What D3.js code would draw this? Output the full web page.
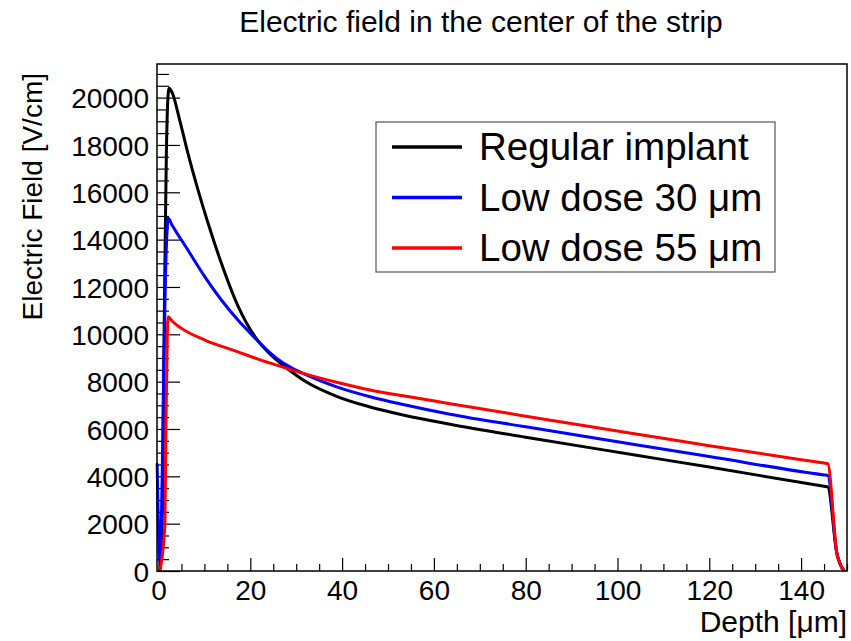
<!DOCTYPE html>
<html>
<head>
<meta charset="utf-8">
<script src="https://cdn.jsdelivr.net/npm/d3@7"></script>
<style>
  body { margin: 0; background: #fff; }
  text { font-family: "Liberation Sans", Arial, sans-serif; fill: #000; }
</style>
</head>
<body>
<svg id="chart" width="851" height="641"></svg>
<script>
// depth [um] / electric field [V/cm]
var depthRegular = [0.3, 0.9, 1.1, 1.4, 1.7, 2.0, 2.3, 3.0, 4.6, 6.4, 8.6, 10.8, 13.7, 17.3, 21, 24, 27, 28.6, 31.5, 38.8, 46.1, 53.3, 63.5, 80, 103.8, 120, 145.0, 145.8, 147.8, 148.6, 149.4];
var fieldRegular = [0, 3000, 8000, 13000, 17500, 19800, 20400, 20200, 19060, 17650, 16100, 14690, 13000, 11200, 9900, 9220, 8710, 8470, 8070, 7380, 6930, 6590, 6200, 5654, 4900, 4390, 3580, 3555, 735, 250, 0];

var depth30 = [-0.3, 0.3, 0.8, 1.1, 1.5, 1.9, 2.1, 3.0, 6.4, 10.1, 13.7, 17.3, 21, 24, 27, 28.6, 31.5, 38.8, 46.1, 53.3, 63.5, 80, 104, 120, 145.0, 145.8, 147.8, 148.6, 149.4];
var field30 = [4550, 400, 4000, 8000, 12300, 14500, 14900, 14600, 13560, 12430, 11450, 10600, 9850, 9270, 8810, 8626, 8347, 7780, 7363, 7034, 6625, 6090, 5330, 4834, 4060, 4040, 735, 250, 0];

var depth55 = [0.3, 1.4, 1.6, 1.9, 2.1, 3.0, 5.0, 10.1, 17.3, 22, 24.2, 28.6, 31.5, 38.8, 46.1, 53.3, 63.5, 80, 104, 120, 145.0, 145.8, 147.8, 148.6, 149.4];
var field55 = [0, 2000, 6000, 9800, 10740, 10550, 10250, 9755, 9260, 8930, 8790, 8520, 8350, 7975, 7650, 7400, 7070, 6540, 5790, 5290, 4563, 4540, 735, 250, 0];

var seriesNames = ["Regular implant", "Low dose 30 \u03bcm", "Low dose 55 \u03bcm"];
var seriesColors = ["#000000", "#0000ff", "#ff0000"];
var xMajorTicks = [0, 20, 40, 60, 80, 100, 120, 140];
var yMajorTicks = [0, 2000, 4000, 6000, 8000, 10000, 12000, 14000, 16000, 18000, 20000];

var svg = d3.select("#chart"),
  margin = { top: 64, right: 4, bottom: 70, left: 157 },
  width = +svg.attr("width") - margin.left - margin.right,
  height = +svg.attr("height") - margin.top - margin.bottom,
  g = svg.append("g").attr("transform", "translate(" + margin.left + "," + margin.top + ")");

var x = d3.scaleLinear().domain([-0.33, 150]).range([0, width]);
var y = d3.scaleLinear().domain([0, 21420]).range([height, 0]);

var series = [
  { name: seriesNames[0], color: seriesColors[0], pts: depthRegular.map((d, i) => [d, fieldRegular[i]]) },
  { name: seriesNames[1], color: seriesColors[1], pts: depth30.map((d, i) => [d, field30[i]]) },
  { name: seriesNames[2], color: seriesColors[2], pts: depth55.map((d, i) => [d, field55[i]]) }
];

// minor ticks
g.append("g")
    .attr("transform", `translate(0,${height})`)
    .call(d3.axisBottom(x).tickValues(d3.range(0, 151, 5).filter(v => v % 20 !== 0)).tickSize(-7).tickFormat(""))
    .call(a => a.select(".domain").remove());
g.append("g")
    .call(d3.axisLeft(y).tickValues(d3.range(0, 21001, 500).filter(v => v % 2000 !== 0)).tickSize(-12).tickFormat(""))
    .call(a => a.select(".domain").remove());

// major ticks
var xAxis = g.append("g")
    .attr("transform", `translate(0,${height})`)
    .call(d3.axisBottom(x).tickValues(xMajorTicks).tickSize(-13).tickPadding(0).tickFormat(d3.format("d")))
    .call(a => a.select(".domain").remove());
xAxis.selectAll("text")
    .attr("y", 28.5).attr("dy", null)
    .style("font-size", "28px");

var yAxis = g.append("g")
    .call(d3.axisLeft(y).tickValues(yMajorTicks).tickSize(-23).tickPadding(8).tickFormat(d3.format("d")))
    .call(a => a.select(".domain").remove());
yAxis.selectAll("text")
    .attr("dy", "0.36em")
    .style("font-size", "28px");

g.selectAll(".tick line").attr("stroke", "#000").attr("stroke-width", 1.2);

// curves
var line = d3.line()
  .x(d => x(d[0]))
  .y(d => y(d[1]))
  .curve(d3.curveMonotoneX);

g.selectAll(".curve")
  .data(series)
  .enter()
  .append("path")
    .attr("class", "curve")
    .attr("fill", "none")
    .attr("stroke", d => d.color)
    .attr("stroke-width", 3)
    .attr("stroke-linejoin", "round")
    .attr("d", d => line(d.pts));

// frame
g.append("rect")
  .attr("x", 0).attr("y", 0)
  .attr("width", width).attr("height", height)
  .attr("fill", "none")
  .attr("stroke", "#000")
  .attr("stroke-width", 1.5);

// axis titles
svg.append("text")
  .attr("x", 847).attr("y", 632)
  .attr("text-anchor", "end")
  .style("font-size", "30px")
  .text("Depth [\u03bcm]");

svg.append("text")
  .attr("transform", "translate(42,73) rotate(-90)")
  .attr("text-anchor", "end")
  .style("font-size", "28px")
  .text("Electric Field [V/cm]");

// title
svg.append("text")
  .attr("x", 481).attr("y", 32)
  .attr("text-anchor", "middle")
  .style("font-size", "30px")
  .text("Electric field in the center of the strip");

// legend
var legend = svg.append("g").attr("transform", "translate(376,122)");
legend.append("rect")
  .attr("width", 399).attr("height", 150)
  .attr("fill", "#fff")
  .attr("stroke", "#555")
  .attr("stroke-width", 1.2);

var rows = legend.selectAll(".row")
  .data(series)
  .enter()
  .append("g")
    .attr("transform", (d, i) => `translate(0,${25 + i * 50.5})`);
rows.append("line")
  .attr("x1", 16).attr("x2", 86)
  .attr("stroke", d => d.color)
  .attr("stroke-width", 3.5);
rows.append("text")
  .attr("x", 103).attr("y", 13)
  .style("font-size", "38.5px")
  .text(d => d.name);
</script>
</body>
</html>
